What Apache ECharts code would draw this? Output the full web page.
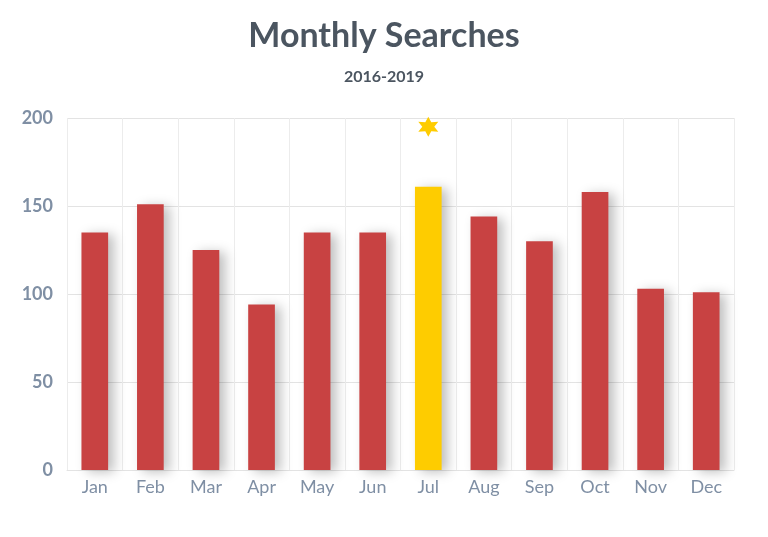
<!DOCTYPE html>
<html>
<head>
<meta charset="utf-8">
<script src="https://cdn.jsdelivr.net/npm/echarts@6/dist/echarts.min.js"></script>
<style>html,body{margin:0;background:#fff}#chart{width:768px;height:537px}</style>
</head>
<body>
<div id="chart"></div>
<script>
var months = ['Jan', 'Feb', 'Mar', 'Apr', 'May', 'Jun', 'Jul', 'Aug', 'Sep', 'Oct', 'Nov', 'Dec'];
var searches = [135, 151, 125, 94, 135, 135, 161, 144, 130, 158, 103, 101];
var highlightIndex = 6;
var yTicks = [0, 50, 100, 150, 200];

var chart = echarts.init(document.getElementById('chart'));

var barData = searches.map(function (v, i) {
    return {
        value: v,
        itemStyle: { color: i === highlightIndex ? '#fecc00' : '#c84242' }
    };
});

chart.setOption({
    animation: false,
    textStyle: { fontFamily: 'Lato' },
    title: {
        text: 'Monthly Searches',
        subtext: '2016-2019',
        left: 'center',
        top: 14,
        textStyle: { fontSize: 34, fontWeight: 'bold', color: '#4b5560', fontFamily: 'Lato' },
        subtextStyle: { fontSize: 16, fontWeight: 'bold', color: '#4b5560', fontFamily: 'Lato' },
        itemGap: 16
    },
    grid: { left: 67, right: 34, top: 118, bottom: 67 },
    xAxis: {
        type: 'category',
        data: months,
        axisLine: { lineStyle: { color: '#e3e3e3' } },
        axisTick: { show: false },
        splitLine: { show: true, lineStyle: { color: '#ececec' } },
        axisLabel: { color: '#7f8fa4', fontSize: 18, margin: 8 }
    },
    yAxis: {
        type: 'value',
        min: yTicks[0],
        max: yTicks[yTicks.length - 1],
        interval: 50,
        axisLine: { show: false },
        axisTick: { show: false },
        splitLine: { lineStyle: { color: '#e3e3e3' } },
        axisLabel: { color: '#7f8fa4', fontSize: 18, fontWeight: 'bold', margin: 14 }
    },
    series: [{
        type: 'bar',
        data: barData,
        barWidth: '48%',
        itemStyle: {
            shadowColor: 'rgba(0,0,0,0.25)',
            shadowBlur: 12,
            shadowOffsetX: 6,
            shadowOffsetY: 2
        },
        markPoint: {
            symbol: 'path://M0,-10 L2.6,-4.5 8.7,-5 5.2,0 8.7,5 2.6,4.5 0,10 -2.6,4.5 -8.7,5 -5.2,0 -8.7,-5 -2.6,-4.5Z',
            symbolSize: 20,
            itemStyle: { color: '#fecc00' },
            label: { show: false },
            data: [{ coord: [highlightIndex, 195] }]
        }
    }]
});
</script>
</body>
</html>
